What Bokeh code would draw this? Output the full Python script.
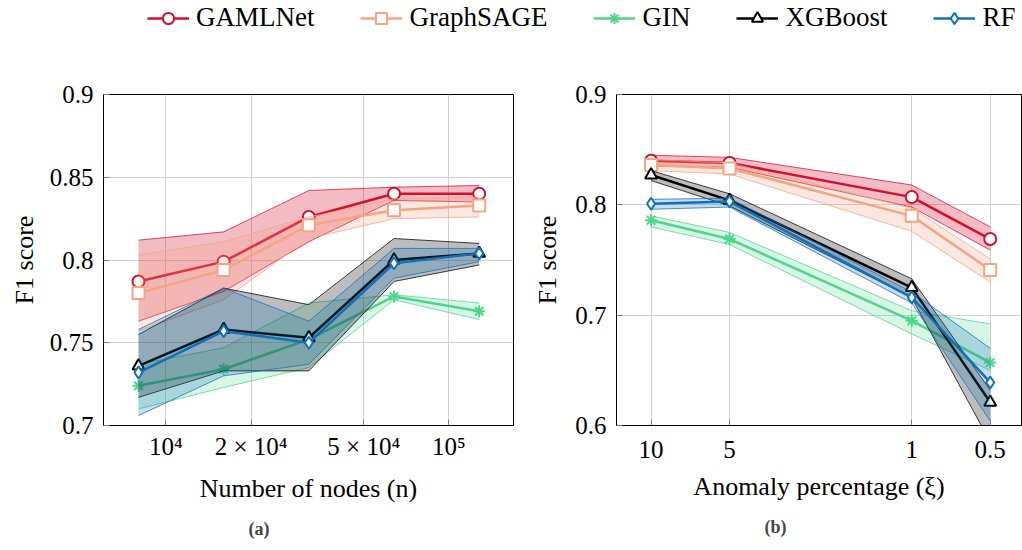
from bokeh.plotting import figure
from bokeh.models import Range1d, FixedTicker, Legend, LegendItem, Title
from bokeh.layouts import column, row
from bokeh.embed import file_html
from bokeh.resources import INLINE

FONT = "Liberation Serif"

# ---------------- data ----------------
methods = ["GAMLNet", "GraphSAGE", "GIN", "XGBoost", "RF"]
colors = ["#d40f2d", "#f4a582", "#4fd68a", "#000000", "#1170b8"]
markers = ["circle", "square", "asterisk", "triangle", "diamond"]

# panel (a): number of nodes
nodes = [8000, 16000, 32000, 64000, 128000]
nodes_ticks = [10000, 20000, 50000, 100000]
nodes_tick_labels = ["10⁴", "2 × 10⁴", "5 × 10⁴", "10⁵"]

gamlnet_n = [0.787, 0.799, 0.826, 0.840, 0.840]
gamlnet_n_hi = [0.812, 0.817, 0.842, 0.844, 0.845]
gamlnet_n_lo = [0.763, 0.781, 0.811, 0.836, 0.835]

graphsage_n = [0.780, 0.794, 0.821, 0.830, 0.833]
graphsage_n_hi = [0.803, 0.811, 0.826, 0.837, 0.838]
graphsage_n_lo = [0.757, 0.776, 0.813, 0.825, 0.826]

gin_n = [0.724, 0.734, 0.752, 0.778, 0.769]
gin_n_hi = [0.737, 0.747, 0.774, 0.779, 0.774]
gin_n_lo = [0.710, 0.723, 0.735, 0.776, 0.764]

xgb_n = [0.736, 0.758, 0.753, 0.800, 0.804]
xgb_n_hi = [0.755, 0.783, 0.773, 0.813, 0.810]
xgb_n_lo = [0.717, 0.733, 0.733, 0.787, 0.797]

rf_n = [0.732, 0.757, 0.750, 0.798, 0.804]
rf_n_hi = [0.758, 0.783, 0.763, 0.807, 0.807]
rf_n_lo = [0.706, 0.730, 0.737, 0.789, 0.799]

# panel (b): anomaly percentage
anomaly = [10, 5, 1, 0.5]
anomaly_tick_labels = ["10", "5", "1", "0.5"]

gamlnet_a = [0.840, 0.838, 0.807, 0.769]
gamlnet_a_hi = [0.845, 0.843, 0.818, 0.780]
gamlnet_a_lo = [0.835, 0.834, 0.798, 0.759]

graphsage_a = [0.836, 0.833, 0.790, 0.741]
graphsage_a_hi = [0.841, 0.838, 0.797, 0.751]
graphsage_a_lo = [0.831, 0.828, 0.776, 0.730]

gin_a = [0.786, 0.769, 0.695, 0.657]
gin_a_hi = [0.790, 0.775, 0.704, 0.692]
gin_a_lo = [0.780, 0.764, 0.683, 0.650]

xgb_a = [0.827, 0.804, 0.725, 0.621]
xgb_a_hi = [0.831, 0.810, 0.733, 0.632]
xgb_a_lo = [0.822, 0.799, 0.716, 0.585]

rf_a = [0.801, 0.803, 0.716, 0.639]
rf_a_hi = [0.805, 0.806, 0.721, 0.670]
rf_a_lo = [0.796, 0.798, 0.711, 0.604]

series_n = [(gamlnet_n, gamlnet_n_lo, gamlnet_n_hi),
            (graphsage_n, graphsage_n_lo, graphsage_n_hi),
            (gin_n, gin_n_lo, gin_n_hi),
            (xgb_n, xgb_n_lo, xgb_n_hi),
            (rf_n, rf_n_lo, rf_n_hi)]
series_a = [(gamlnet_a, gamlnet_a_lo, gamlnet_a_hi),
            (graphsage_a, graphsage_a_lo, graphsage_a_hi),
            (gin_a, gin_a_lo, gin_a_hi),
            (xgb_a, xgb_a_lo, xgb_a_hi),
            (rf_a, rf_a_lo, rf_a_hi)]

BAND_ALPHA = [0.28, 0.25, 0.22, 0.26, 0.24]


def draw(p, xs, series):
    for i, (mean, lo, hi) in enumerate(series):
        c = colors[i]
        p.varea(x=xs, y1=lo, y2=hi, fill_color=c, fill_alpha=BAND_ALPHA[i])
        p.line(xs, lo, line_color=c, line_width=1, line_alpha=0.75)
        p.line(xs, hi, line_color=c, line_width=1, line_alpha=0.75)
        p.line(xs, mean, line_color=c, line_width=2.5)
        if markers[i] == "asterisk":
            p.scatter(xs, mean, marker="asterisk", size=12, line_color=c, line_width=2)
        else:
            p.scatter(xs, mean, marker=markers[i], size=12, line_color=c,
                      fill_color="white", line_width=2)


def style(p, ylabel_standoff, xtick_standoff):
    p.outline_line_color = "black"
    p.outline_line_width = 1
    p.grid.grid_line_color = "#d2d2d2"
    p.grid.grid_line_width = 1
    for ax in p.axis:
        ax.axis_line_color = "black"
        ax.major_tick_in = 6
        ax.major_tick_out = 0
        ax.major_tick_line_color = "#7f7f7f"
        ax.minor_tick_line_color = None
        ax.major_label_text_font = FONT
        ax.major_label_text_font_size = "25px"
        ax.major_label_text_color = "black"
        ax.axis_label_text_font = FONT
        ax.axis_label_text_font_size = "26px"
        ax.axis_label_text_font_style = "normal"
        ax.axis_label_text_color = "black"
    p.yaxis.major_label_standoff = 10
    p.xaxis.major_label_standoff = xtick_standoff
    p.yaxis.axis_label_standoff = ylabel_standoff
    p.xaxis.axis_label_standoff = 11


# ---------------- panel (a) ----------------
pa = figure(width=530, height=506, title=None, x_axis_type="log",
            x_range=Range1d(6018, 169200), y_range=Range1d(0.7, 0.9),
            min_border_left=103, min_border_right=17, min_border_top=50,
            min_border_bottom=120, toolbar_location=None, output_backend="svg")
draw(pa, nodes, series_n)
pa.xaxis.ticker = FixedTicker(ticks=nodes_ticks)
pa.xaxis.major_label_overrides = dict(zip(nodes_ticks, nodes_tick_labels))
pa.yaxis.ticker = FixedTicker(ticks=[0.7, 0.75, 0.8, 0.85, 0.9])
pa.yaxis.major_label_overrides = {0.7: "0.7", 0.75: "0.75", 0.8: "0.8", 0.85: "0.85", 0.9: "0.9"}
pa.xaxis.axis_label = "Number of nodes (n)"
pa.yaxis.axis_label = "F1 score"
style(pa, 8, 7)
pa.add_layout(Title(text="(a)", align="left", offset=145, text_font=FONT,
                    text_font_size="18px", text_font_style="bold", standoff=23), "below")

# ---------------- panel (b) ----------------
pb = figure(width=492, height=506, title=None, x_axis_type="log",
            x_range=Range1d(13.57, 0.3793), y_range=Range1d(0.6, 0.9),
            min_border_left=84, min_border_right=1, min_border_top=50,
            min_border_bottom=120, toolbar_location=None, output_backend="svg")
draw(pb, anomaly, series_a)
pb.xaxis.ticker = FixedTicker(ticks=anomaly)
pb.xaxis.major_label_overrides = dict(zip(anomaly, anomaly_tick_labels))
pb.yaxis.ticker = FixedTicker(ticks=[0.6, 0.7, 0.8, 0.9])
pb.yaxis.major_label_overrides = {0.6: "0.6", 0.7: "0.7", 0.8: "0.8", 0.9: "0.9"}
pb.xaxis.axis_label = "Anomaly percentage (ξ)"
pb.yaxis.axis_label = "F1 score"
style(pb, 10, 15)
pb.add_layout(Title(text="(b)", align="left", offset=148, text_font=FONT,
                    text_font_size="18px", text_font_style="bold", standoff=23), "below")

# ---------------- legend strip ----------------
leg = figure(width=1022, height=44, title=None, x_range=Range1d(0, 1), y_range=Range1d(0, 1),
             x_axis_location=None, y_axis_location=None, min_border=0,
             toolbar_location=None, output_backend="svg")
leg.grid.visible = False
leg.outline_line_color = None
items = []
for i, name in enumerate(methods):
    c = colors[i]
    r1 = leg.line(x=[5, 6], y=[5, 6], line_color=c, line_width=2.5)
    if markers[i] == "asterisk":
        r2 = leg.scatter(x=[5], y=[5], marker="asterisk", size=12, line_color=c, line_width=2)
    else:
        r2 = leg.scatter(x=[5], y=[5], marker=markers[i], size=12, line_color=c,
                         fill_color="white", line_width=2)
    items.append(LegendItem(label=name, renderers=[r1, r2]))
legend = Legend(items=items, orientation="horizontal", location=(147, 11),
                glyph_width=42, glyph_height=28, label_standoff=7, spacing=46,
                padding=0, margin=0, border_line_color=None, background_fill_alpha=0,
                label_text_font=FONT, label_text_font_size="27px", label_text_color="black")
leg.add_layout(legend, "center")

layout = column(leg, row(pa, pb))
open("out.html", "w").write(file_html(layout, INLINE))
